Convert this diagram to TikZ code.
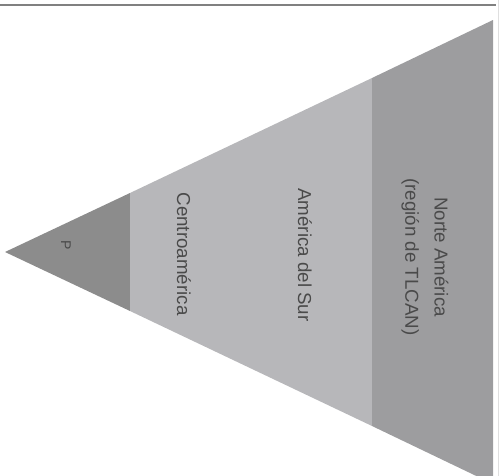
\documentclass[tikz,border=0pt]{standalone}
\usepackage{fontspec}
\setmainfont{Liberation Sans}
\definecolor{tipgray}{HTML}{8C8C8C}
\definecolor{midgray}{HTML}{B7B7BA}
\definecolor{basegray}{HTML}{9D9D9F}
\definecolor{textgray}{HTML}{4A4A4A}
\tikzset{
  bandlabel/.style={rotate=-90,text=textgray,font=\fontsize{16}{25}\selectfont,align=center,inner sep=0pt}
}
\begin{document}
\begin{tikzpicture}[x=0.03cm,y=-0.03cm]
  \useasboundingbox (0,0) rectangle (503,476);
  \clip (0,0) rectangle (503,476);
  \fill[tipgray] (5,252) -- (130,193) -- (130,311) -- cycle;
  \fill[midgray] (130,193) -- (372,78) -- (372,426) -- (130,311) -- cycle;
  \fill[basegray] (372,78) -- (493,20) -- (493,484) -- (372,426) -- cycle;
  \draw[line width=1.5pt,gray] (0,5) -- (496,5);
  \draw[gray!25] (498,0) -- (498,476);
  \node[bandlabel,font=\fontsize{12}{14}\selectfont] (tip) at (66,245) {P};
  \node[bandlabel] (centro) at (184,254) {Centroamérica};
  \node[bandlabel] (sur) at (305,255) {América del Sur};
  \node[bandlabel] (norte) at (425,257) {Norte América\\(región de TLCAN)};
\end{tikzpicture}
\end{document}
